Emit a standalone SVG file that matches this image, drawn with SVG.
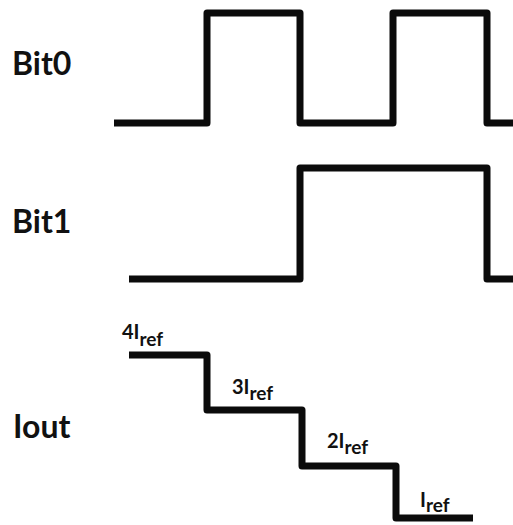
<svg xmlns="http://www.w3.org/2000/svg" width="513" height="525" viewBox="0 0 513 525">
<style>
.wave{fill:none;stroke:#0b0b0b;stroke-width:7;stroke-linejoin:round;stroke-linecap:butt}
.lbl{font-family:Lato,"Open Sans","Liberation Sans",sans-serif;font-weight:bold;font-size:32px;fill:#111}
.cur{font-family:Lato,"Open Sans","Liberation Sans",sans-serif;font-weight:bold;font-size:20px;fill:#111}
.sub{font-size:19px}
</style>
<rect width="513" height="525" fill="#ffffff"/>
<g id="bit0">
<text class="lbl" x="12" y="75">Bit0</text>
<path class="wave" d="M114,123 H207 V13 H300 V123 H393 V13 H487 V123 H513"/>
</g>
<g id="bit1">
<text class="lbl" x="12" y="233">Bit1</text>
<path class="wave" d="M129,279 H300 V168 H487 V279 H513"/>
</g>
<g id="iout">
<text class="lbl" x="13" y="438">Iout</text>
<path class="wave" d="M129,355 H207 V410 H302 V466 H396 V518 H473"/>
<text class="cur" x="122" y="339">4I<tspan class="sub" dy="7">ref</tspan></text>
<text class="cur" x="232" y="394">3I<tspan class="sub" dy="6">ref</tspan></text>
<text class="cur" x="327" y="448">2I<tspan class="sub" dy="6">ref</tspan></text>
<text class="cur" x="420" y="507">I<tspan class="sub" dy="5">ref</tspan></text>
</g>
</svg>
